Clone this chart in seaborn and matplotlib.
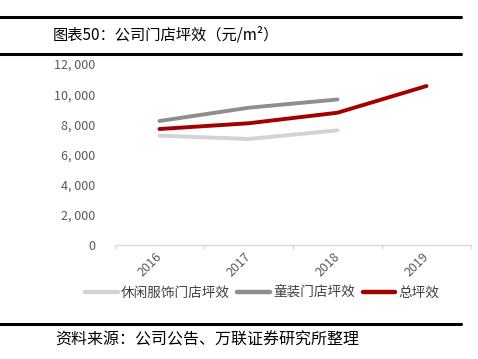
import matplotlib
matplotlib.use("Agg")
import matplotlib.pyplot as plt
import seaborn as sns
import pandas as pd
from matplotlib.ticker import FuncFormatter
from matplotlib.lines import Line2D

years = ["2016", "2017", "2018", "2019"]
casual = [7250, 7030, 7600, None]
kids = [8220, 9100, 9650, None]
total = [7690, 8070, 8770, 10540]
series_names = ["休闲服饰门店坪效", "童装门店坪效", "总坪效"]
colors = ["#D3D3D3", "#8E8E8E", "#A30000"]

sns.set_theme(style="white")
plt.rcParams['font.family'] = ['Noto Sans CJK SC', 'DejaVu Sans']

rows = []
for name, vals in zip(series_names, [casual, kids, total]):
    for i, (y, v) in enumerate(zip(years, vals)):
        if v is not None:
            rows.append({"year": i, "value": v, "series": name})
df = pd.DataFrame(rows)

fig = plt.figure(figsize=(4.78, 3.59), dpi=100)
ax = fig.add_axes([115/478, 1-245/359, (471-115)/478, (245-64)/359])
sns.lineplot(data=df, x="year", y="value", hue="series", hue_order=series_names,
             palette=colors, linewidth=2.8, ax=ax, legend=False)
ax.set_xlim(-0.5, 3.5)
ax.set_ylim(0, 12000)
ax.set_yticks(range(0, 12001, 2000))
ax.yaxis.set_major_formatter(FuncFormatter(lambda v, p: f"{int(v):,}".replace(",", ", ")))
ax.set_xticks(range(4))
ax.set_xticklabels(years, rotation=45, ha="right", va="center", rotation_mode="anchor")
ax.set_xticks([-0.5, 0.5, 1.5, 2.5, 3.5], minor=True)
ax.tick_params(axis="x", which="major", length=0, pad=7, labelsize=9, colors="#595959")
ax.tick_params(axis="x", which="minor", length=3, color="#D9D9D9", direction="out", bottom=True)
ax.tick_params(axis="y", length=0, labelsize=9, colors="#595959", pad=14)
ax.set_xlabel("")
ax.set_ylabel("")
for s in ["top", "right", "left"]:
    ax.spines[s].set_visible(False)
ax.spines["bottom"].set_color("#D9D9D9")
ax.spines["bottom"].set_linewidth(1)

handles = [Line2D([0], [0], color=c, lw=3.2) for c in colors]
fig.legend(handles, series_names, loc="center", bbox_to_anchor=(262/478, 1-293/359),
           ncol=3, frameon=False, fontsize=9.8, handlelength=2.4, handletextpad=0.2,
           columnspacing=0.6, labelcolor="#404040")

# header lines and title
fig.add_artist(Line2D([0, 461/478], [1-17/359, 1-17/359], color="black", lw=2.2))
fig.add_artist(Line2D([0, 461/478], [1-54/359, 1-54/359], color="black", lw=2.2))
fig.text(53/478, 1-35/359, "图表50：公司门店坪效（元/m²）", fontsize=11, va="center", ha="left", color="black")
fig.add_artist(Line2D([0, 461/478], [1-324/359, 1-324/359], color="black", lw=2.2))
fig.text(55/478, 1-340/359, "资料来源：公司公告、万联证券研究所整理", fontsize=11.5, va="center", ha="left",
         color="black", style="italic")

fig.savefig("out.png", dpi=100)
